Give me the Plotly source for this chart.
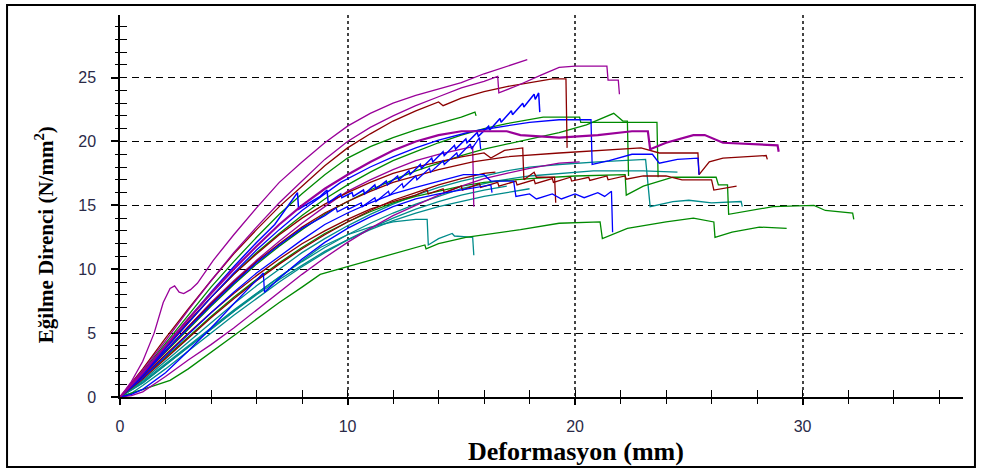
import plotly.graph_objects as go

# ---- data (deformation mm, bending strength N/mm2) ----
p1 = [(0,0),(0.5,1.2),(1,2.8),(1.5,5.0),(1.9,7.4),(2.2,8.5),(2.4,8.7),(2.6,8.2),(2.8,8.1),(3.1,8.4),(3.4,8.9),(4.1,10.7),(5,12.7),(6,14.8),(7,16.8),(8,18.4),(9,19.9),(10,21.2),(11,22.2),(12,23.0),(13,23.6),(14,24.1),(15,24.6),(16,25.3),(17,25.9),(17.9,26.4)]
p2 = [(0,0),(1,2.1),(2,4.4),(3,6.8),(4,9.1),(5,11.3),(6,13.3),(7,15.2),(8,16.9),(9,18.6),(10,20.0),(11,21.1),(12,22.0),(13,22.8),(14,23.5),(15,24.2),(16,24.7),(16.6,25.1),(16.65,23.8),(17.5,24.4),(18.5,25.2),(19.3,25.8),(20,25.9),(21.4,25.9),(21.45,24.8),(21.9,24.8),(21.95,23.7)]
p3 = [(0,0),(1,1.9),(2,4.0),(3,6.1),(4,8.1),(5,10.0),(6,11.8),(7,13.5),(8,15.0),(9,16.3),(10,17.4),(11,18.4),(12,19.3),(13,20.0),(14,20.5),(15,20.8),(17,20.8),(17.6,20.5),(19.3,20.3),(21,20.5),(22.5,20.8),(23.2,20.8),(23.3,19.4),(24,19.9),(25.2,20.5),(25.7,20.5),(26.5,19.9),(28.9,19.7),(28.95,19.2)]
p4 = [(0,0),(1,1.7),(2,3.6),(3,5.5),(4,7.4),(5,9.1),(6,10.7),(7,12.2),(8,13.6),(9,14.9),(10,16.1),(11,17.0),(12,17.8),(13,18.5),(14,19.0),(15.5,19.6),(15.55,14.9)]
p5 = [(0,0),(0.5,0.1),(1,0.4),(2,1.6),(3,2.9),(4,4.1),(5,5.4),(6,6.8),(7,8.2),(8,9.6),(9,10.9),(10,12.1),(11,13.2),(12,14.2),(13,15.0),(14,15.8),(15,16.5),(16,17.1),(17,17.5),(18,17.9),(19.3,18.3),(20.2,18.4)]

dr1 = [(0,0),(1,2.2),(2,4.6),(3,6.9),(4,9.1),(5,11.2),(6,13.1),(7,14.9),(8,16.5),(9,18.1),(10,19.5),(11,20.6),(12,21.6),(13,22.4),(14,23.1),(14.2,22.8),(15,23.4),(16,23.9),(17,24.3),(18,24.6),(19,24.9),(19.6,24.9),(19.65,19.5)]
dr2 = [(0,0),(1,1.7),(2,3.6),(3,5.5),(4,7.3),(5,9.0),(6,10.6),(7,12.0),(8,13.3),(9,14.4),(10,15.3),(11,16.1),(12,16.8),(13,17.3),(14,17.8),(15.5,18.4),(17,18.8),(19.3,19.1),(21,19.3),(22.9,19.5),(23.7,19.1),(25.4,19.1),(25.45,17.4),(25.9,18.4),(26.5,18.7),(28.4,18.9),(28.45,18.6)]
dr3 = [(0,0),(1,1.6),(2,3.3),(3,5.0),(4,6.6),(5,8.1),(6,9.5),(7,10.8),(8,12.0),(9,13.0),(10,13.9),(11,14.7),(12,15.3),(13,15.8),(13.5,16.2),(13.55,15.9),(14.2,16.3),(14.25,16.0),(15,16.5),(15.05,16.2),(15.8,16.7),(15.85,16.4),(16.6,16.8),(16.65,16.5),(17.4,16.9),(17.45,16.6),(18.2,17.0),(18.25,16.7),(19,17.1),(19.05,16.8),(19.8,17.2),(19.85,16.9),(20.6,17.2),(20.65,16.95),(21.4,17.3),(21.45,17.0),(22.2,17.3),(22.25,17.05),(23,17.3),(24,17.3),(24.7,17.0),(26,17.0),(26.1,16.2),(27.1,16.5)]
dr4 = [(0,0),(1,1.9),(2,3.9),(3,5.9),(4,7.8),(5,9.6),(6,11.2),(7,12.7),(8,14.0),(9,15.1),(10,16.0),(11,16.8),(12,17.5),(13,18.0),(14,18.4),(15,18.8),(16,19.1),(16.3,18.7),(16.9,19.3),(17.7,19.5),(17.75,17.0),(18.2,17.6),(18.3,17.2),(19.1,17.2),(19.15,15.2)]
dr5 = [(0,0),(1,1.4),(2,3.0),(3,4.6),(4,6.2),(5,7.7),(6,9.1),(7,10.4),(8,11.6),(9,12.7),(10,13.7),(11,14.6),(12,15.4),(13,16.0),(14,16.6),(15,17.1),(16,17.5),(16.5,17.6)]

g1 = [(0,0),(1,2.0),(2,4.2),(3,6.4),(4,8.6),(5,10.6),(6,12.5),(7,14.3),(8,15.9),(9,17.4),(10,18.7),(11,19.6),(12,20.3),(13,20.9),(14,21.4),(15,21.9),(15.6,22.3),(15.65,22.0)]
g3 = [(0,0),(1,1.5),(2,3.1),(3,4.7),(4,6.3),(5,7.8),(6,9.2),(7,10.5),(8,11.7),(9,12.8),(10,13.7),(11,14.5),(12,15.2),(13,15.7),(14,16.1),(15,16.5),(16,16.8),(18,17.1),(20,17.3),(22.2,17.4),(22.25,15.8),(23,16.5),(24.3,17.2),(26.2,17.2),(26.3,16.6),(26.7,16.6),(26.75,14.3),(28.7,14.9),(30.5,15.0),(31,14.6),(32.2,14.4),(32.25,13.9)]
g4 = [(0,0),(1,0.6),(2.2,1.3),(3,2.2),(4,3.5),(5.1,5.0),(6,6.1),(7,7.4),(8,8.6),(8.8,9.6),(10,10.2),(11,10.7),(12,11.2),(13.4,11.9),(13.45,11.6),(14,12.0),(15.2,12.5),(16.5,12.8),(17.6,13.1),(19.3,13.6),(21.1,13.7),(21.2,12.4),(22.3,13.2),(24,13.7),(25.2,14.0),(26.1,13.7),(26.15,12.5),(26.9,12.9),(28.1,13.3),(29.3,13.2)]
g5 = [(0,0),(1,1.8),(2,3.8),(3,5.8),(4,7.8),(5,9.6),(6,11.3),(7,12.8),(8,14.2),(9,15.5),(10,16.6),(11,17.6),(12,18.5),(13,19.2),(14,19.9),(15,20.5),(16,21.0),(17,21.4),(18.6,21.9),(20.2,21.9),(20.25,21.5),(23.6,21.5),(23.65,17.2)]
g6 = [(0,0),(1,1.7),(2,3.5),(3,5.3),(4,7.1),(5,8.8),(6,10.4),(7,11.8),(8,13.1),(9,14.3),(10,15.3),(11,16.2),(12,17.0),(13,17.7),(14,18.3),(15,18.9),(16,19.4),(17,19.8),(18,20.2),(19.3,20.7),(20.5,21.3),(21.7,22.2),(22.1,21.6),(22.3,21.6),(22.35,17.3)]

b1 = [(0,0),(1,1.9),(2,4.0),(3,6.1),(4,8.2),(5,10.2),(6,12.1),(6.8,13.5),(7.8,16.0),(7.85,14.7),(8.8,15.7),(9.1,16.2),(9.15,15.2),(9.7,15.9),(9.75,15.6),(10.2,16.0),(10.25,15.7),(10.7,16.2),(10.75,15.9),(11.2,16.6),(11.25,16.3),(11.7,16.9),(11.75,16.6),(12.2,17.3),(12.25,17.0),(12.7,17.7),(12.75,17.4),(13.2,18.2),(13.25,17.9),(13.7,18.7),(13.75,18.4),(14.2,19.2),(14.25,18.9),(14.7,19.7),(14.75,19.4),(15.2,20.2),(15.25,19.9),(15.7,20.7),(15.75,20.4),(16.2,21.2),(16.25,20.9),(16.7,21.8),(16.75,21.5),(17.2,22.4),(17.25,22.1),(17.7,23.0),(17.75,22.7),(18.2,23.7),(18.25,23.3),(18.4,23.8),(18.45,22.3)]
b2 = [(0,0),(1,1.8),(2,3.8),(3,5.8),(4,7.8),(5,9.7),(6,11.5),(7,13.1),(8,14.6),(9,15.9),(9.7,16.8),(11,18.0),(12,18.8),(13,19.5),(14,20.1),(15.5,20.8),(17,21.2),(18,21.5),(19.3,21.7),(20.7,21.7),(20.75,18.2),(21.5,18.5),(22.5,19.0),(23.4,19.0),(23.7,18.3),(24.5,18.6),(25.4,18.7),(25.45,17.4)]
b3 = [(0,0),(1,1.5),(2,3.2),(3,4.9),(4,6.6),(5,8.2),(6,9.7),(7,11.0),(8,12.3),(9,13.5),(10,14.4),(11,15.2),(12,15.9),(13,16.4),(14,16.9),(15.1,17.4),(16,17.4),(16.3,16.9),(17.3,16.9),(17.4,15.7),(18,15.9),(18.3,15.5),(19,15.9),(19.4,15.5),(20,15.9),(20.4,15.6),(21,16.0),(21.3,15.7),(21.6,16.1),(21.65,12.9)]
b5 = [(0,0),(0.5,0.2),(1,0.6),(2,1.9),(3,3.6),(4,5.4),(5,7.3),(6,9.1),(6.3,9.7),(6.35,8.2),(7,9.3),(8,10.8),(9,12.1),(10,13.2),(11,14.1),(12,14.9),(13,15.5),(14,15.9),(15,16.2),(16.3,16.6),(16.35,16.0)]
b6 = [(0,0),(1,1.7),(2,3.6),(3,5.4),(4,7.2),(5,8.9),(6,10.5),(7,11.9),(8,13.2),(9,14.2),(9.5,14.8),(9.55,14.5),(10,14.9),(10.05,14.7),(10.6,15.2),(10.65,14.9),(11.2,15.6),(11.25,15.3),(11.8,16.1),(11.85,15.8),(12.4,16.7),(12.45,16.4),(13,17.3),(13.05,17.0),(13.6,17.9),(13.65,17.6),(14.2,18.5),(14.25,18.2),(14.8,19.1),(14.85,18.8),(15.4,19.8),(15.45,19.4),(15.8,20.3),(15.85,19.4)]

t1 = [(0,0),(1,1.2),(2,2.6),(3,4.0),(4,5.4),(5,6.8),(6,8.1),(7,9.4),(8,10.7),(8.8,11.7),(10,12.7),(11,13.3),(12,13.7),(13,13.9),(13.5,13.9),(13.55,11.9),(14,12.4),(14.6,12.8),(14.7,12.6),(15.5,12.5),(15.55,11.1)]
t2 = [(0,0),(1,1.3),(2,2.8),(3,4.3),(4,5.8),(5,7.3),(6,8.7),(7,10.0),(8,11.3),(9,12.4),(10,13.4),(11,14.3),(12,15.1),(13,15.8),(14,16.4),(15,16.9),(16,17.3),(17,17.7),(18,18.0),(19.3,18.2),(21,18.4),(23.1,18.6),(23.3,14.9),(24.3,15.3),(25,15.4),(26,15.2),(27.3,15.3),(27.35,14.9)]
t3 = [(0,0),(1,1.1),(2,2.5),(3,3.9),(4,5.3),(5,6.7),(6,8.1),(7,9.4),(8,10.6),(9,11.7),(10,12.7),(11,13.6),(12,14.4),(13,15.1),(14,15.7),(15,16.3),(16.5,16.9),(18,17.3),(20.8,17.7),(23,17.7),(24.5,17.6)]
t4 = [(0,0),(1,1.1),(2,2.5),(3,3.9),(4,5.3),(5,6.7),(6,8.0),(7,9.2),(8,10.3),(9,11.4),(10,12.3),(11,13.1),(12,13.8),(13,14.4),(14,14.9),(15,15.3),(16,15.7),(17,16.0),(18,16.3)]
t5 = [(0,0),(0.5,0.3),(1,0.9),(2,2.2),(3,3.6),(4,5.0),(5,6.4),(6,7.7),(7,9.0),(8,10.2),(9,11.3),(10,12.3),(11,13.2),(12,14.0),(13,14.7),(14,15.3),(15,15.8),(16,16.2),(17,16.5)]

PURPLE, DRED, GREEN, BLUE, TEAL = "#990099", "#8b0000", "#008a00", "#0000ff", "#008b8b"

series = [
    (t1, TEAL, 1.3), (t2, TEAL, 1.3), (t3, TEAL, 1.3), (t4, TEAL, 1.3), (t5, TEAL, 1.3),
    (g4, GREEN, 1.3), (g3, GREEN, 1.3), (g5, GREEN, 1.3), (g6, GREEN, 1.3), (g1, GREEN, 1.3),
    (p5, PURPLE, 1.3), (p4, PURPLE, 1.3),
    (dr5, DRED, 1.3), (dr3, DRED, 1.3), (dr4, DRED, 1.3), (dr2, DRED, 1.3),
    (b5, BLUE, 1.3), (b3, BLUE, 1.3), (b6, BLUE, 1.3), (b2, BLUE, 1.3), (b1, BLUE, 1.5),
    (p3, PURPLE, 2.2), (dr1, DRED, 1.3), (p2, PURPLE, 1.3), (p1, PURPLE, 1.3),
]

fig = go.Figure()
for pts, col, w in series:
    xs = [p[0] for p in pts]
    ys = [p[1] for p in pts]
    fig.add_trace(go.Scatter(x=xs, y=ys, mode="lines", line=dict(color=col, width=w),
                             showlegend=False, hoverinfo="skip"))

# overlay axes for the inner half of crossing ticks
fig.add_trace(go.Scatter(x=[None], y=[None], xaxis="x2", yaxis="y2", showlegend=False, hoverinfo="skip"))

XR = [0, 37.05]
YR = [0, 29.9]
tickfont = dict(family="Liberation Sans, Arial, sans-serif", size=16, color="#2a2a48")

fig.update_layout(
    width=981, height=469,
    margin=dict(l=120, r=18, t=15, b=72),
    paper_bgcolor="white", plot_bgcolor="white",
    xaxis=dict(range=XR, showline=True, linecolor="black", linewidth=1.5,
               ticks="outside", ticklen=6, tickwidth=1.5, tickcolor="black",
               tick0=0, dtick=10,
               minor=dict(ticks="outside", ticklen=5, dtick=2, tick0=0, tickcolor="black", tickwidth=1.3, showgrid=False),
               showgrid=True, gridcolor="#444444", gridwidth=2, griddash="3px,3px",
               zeroline=False, tickfont=tickfont, ticklabelstandoff=8),
    yaxis=dict(range=YR, showline=True, linecolor="black", linewidth=1.5,
               ticks="outside", ticklen=7, tickwidth=1.5, tickcolor="black",
               tick0=0, dtick=5,
               minor=dict(ticks="outside", ticklen=3, dtick=1, tick0=0, tickcolor="black", tickwidth=1.3, showgrid=False),
               showgrid=True, gridcolor="black", gridwidth=1.2, griddash="7px,5px",
               zeroline=False, tickfont=tickfont, ticklabelstandoff=12),
    xaxis2=dict(range=XR, overlaying="x", anchor="y", ticks="inside", ticklen=7, tickwidth=1.3,
                tickcolor="black", tick0=0, dtick=2, showticklabels=False, showgrid=False,
                showline=False, zeroline=False),
    yaxis2=dict(range=YR, overlaying="y", anchor="x", ticks="inside", ticklen=7, tickwidth=1.3,
                tickcolor="black", tick0=0, dtick=1, showticklabels=False, showgrid=False,
                showline=False, zeroline=False),
    annotations=[
        dict(text="<b>Deformasyon (mm)</b>", xref="paper", yref="paper", x=0.541, y=-0.142,
             xanchor="center", yanchor="middle", showarrow=False,
             font=dict(family="Liberation Serif, Times New Roman, serif", size=26, color="black")),
        dict(text="<b>Eğilme Direnci (N/mm<sup>2</sup>)</b>", xref="paper", yref="paper", x=-0.090, y=0.424,
             xanchor="center", yanchor="middle", showarrow=False, textangle=-90,
             font=dict(family="Liberation Serif, Times New Roman, serif", size=21, color="black")),
    ],
    shapes=[dict(type="rect", xref="paper", yref="paper", x0=-0.134, x1=1.0142, y0=-0.183, y1=1.026,
                 line=dict(color="black", width=2), layer="above")],
)

fig.write_html("out.html")
